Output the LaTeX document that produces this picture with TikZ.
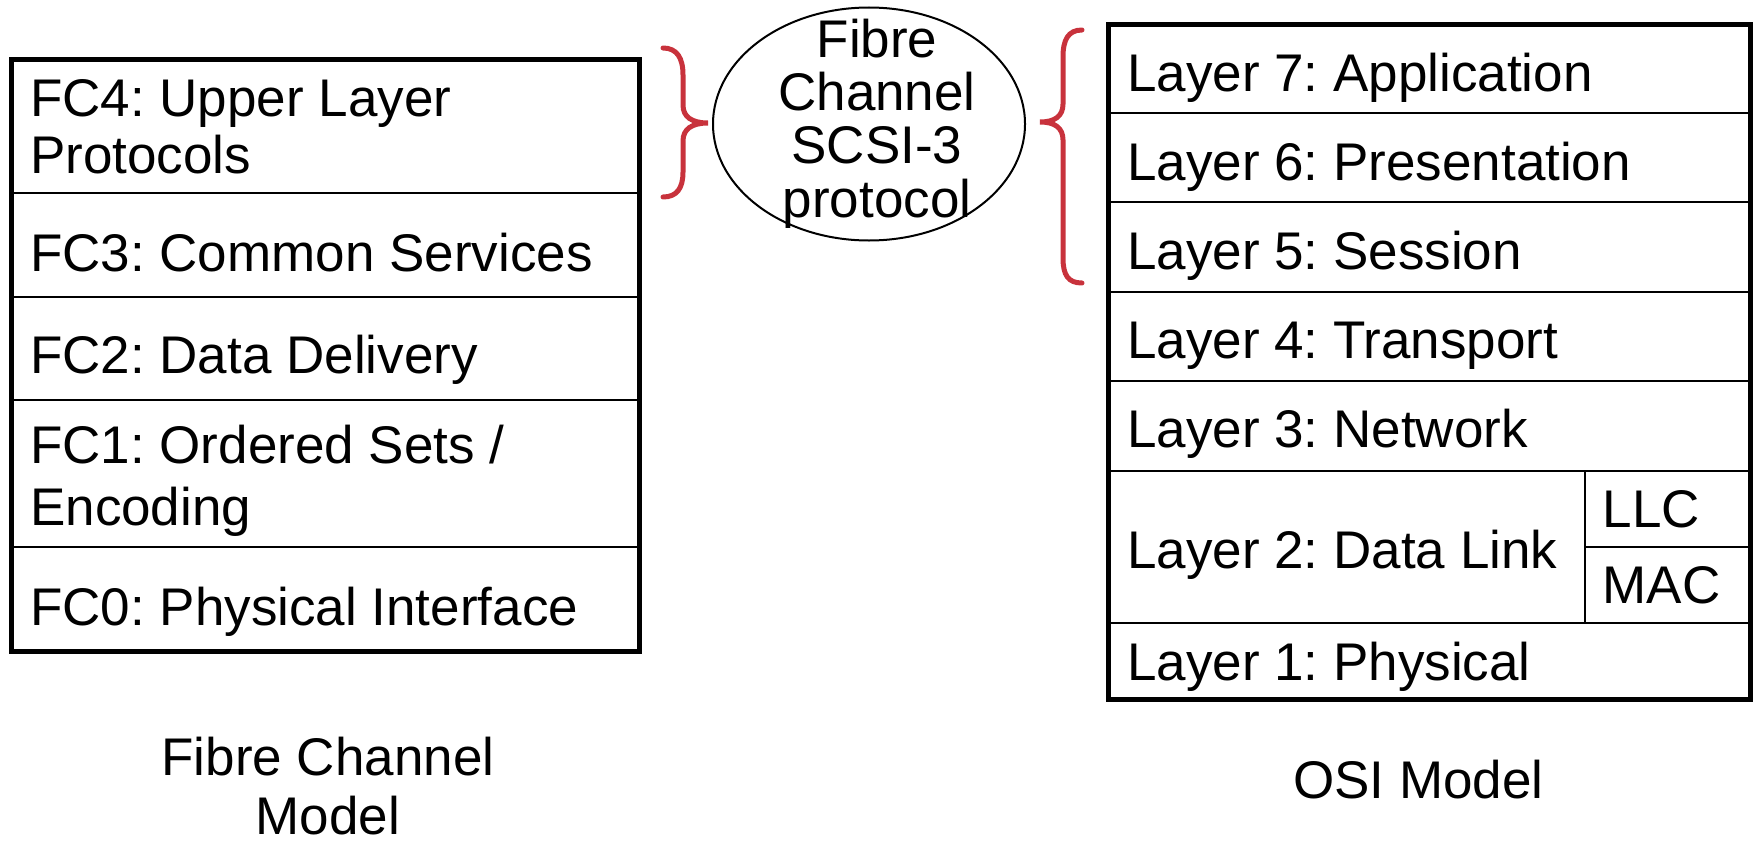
\documentclass[tikz,border=0pt]{standalone}
\usepackage{fontspec}
\setmainfont{Liberation Sans}
\usetikzlibrary{shapes.geometric}
\definecolor{bracered}{RGB}{200,50,60}
\frenchspacing
\begin{document}
\begin{tikzpicture}[x=1bp,y=-1bp,
  thickbox/.style={line width=5bp},
  thinline/.style={line width=2bp},
  lbl/.style={anchor=base west, inner sep=0pt, font=\fontsize{53bp}{57bp}\selectfont\frenchspacing},
  clbl/.style={anchor=base, inner sep=0pt, font=\fontsize{53bp}{57bp}\selectfont\frenchspacing},
  brc/.style={draw=bracered, line width=5bp, line cap=round},
  ]
\useasboundingbox (0,0) rectangle (1759,843);

% ---------- Fibre Channel model (left) ----------
\coordinate (fctl) at (11,59.5);
\coordinate (fcbr) at (639,651);
\foreach \yy in {193,297,400,547}{\draw[thinline] (11,\yy) -- (639,\yy);}
\draw[thickbox] (fctl) rectangle (fcbr);

\node[lbl] (fc4) at (30,116.5) {\begin{tabular}[t]{@{}l@{}}FC4: Upper Layer\\Protocols\end{tabular}};
\node[lbl] (fc3) at (30,271) {FC3: Common Services};
\node[lbl] (fc2) at (30,373.5) {FC2: Data Delivery};
\node[lbl] (fc1) at (30,463.5) {\begin{tabular}[t]{@{}l@{}}FC1: Ordered Sets /\\[5bp]Encoding\end{tabular}};
\node[lbl] (fc0) at (30,625) {FC0: Physical Interface};

\node[clbl] (fctitle) at (328,775) {\begin{tabular}[t]{@{}c@{}}Fibre Channel\\[2bp]Model\end{tabular}};

% ---------- OSI model (right) ----------
\coordinate (ositl) at (1108,24.5);
\coordinate (osibr) at (1750,699);
\foreach \yy in {112.5,202,292,381,471,623}{\draw[thinline] (1108,\yy) -- (1750,\yy);}
\draw[thinline] (1585,471) -- (1585,623);
\draw[thinline] (1585,547) -- (1750,547);
\draw[thickbox] (ositl) rectangle (osibr);

\node[lbl] (l7) at (1127,91) {Layer 7: Application};
\node[lbl] (l6) at (1127,180) {Layer 6: Presentation};
\node[lbl] (l5) at (1127,269) {Layer 5: Session};
\node[lbl] (l4) at (1127,358) {Layer 4: Transport};
\node[lbl] (l3) at (1127,447) {Layer 3: Network};
\node[lbl] (l2) at (1127,568.5) {Layer 2: Data Link};
\node[lbl] (llc) at (1602.5,527) {LLC};
\node[lbl] (mac) at (1602.5,603.5) {MAC};
\node[lbl] (l1) at (1127,680) {Layer 1: Physical};

\node[clbl] (osititle) at (1418.5,798) {OSI Model};

% ---------- centre ellipse ----------
\node[ellipse, draw, line width=2bp, minimum width=312bp, minimum height=233bp, inner sep=0pt] (ell) at (869,124) {};
\node[clbl, font=\fontsize{53bp}{51.7bp}\selectfont] (ellt) at (877,57)
  {\begin{tabular}[t]{@{}c@{}}Fibre\\Channel\\SCSI-3\\protocol\end{tabular}};

% ---------- braces ----------
\coordinate (lbtop) at (663,48);
\coordinate (lbbot) at (663,197);
\coordinate (lbtip) at (708,123);
\draw[brc] (lbtop) .. controls (677,48) and (683,58) .. (683,75) -- (683,105)
  .. controls (683,117) and (692,123) .. (lbtip)
  .. controls (692,123) and (683,129) .. (683,141) -- (683,172)
  .. controls (683,188) and (677,197) .. (lbbot);

\coordinate (rbtop) at (1082,30);
\coordinate (rbbot) at (1082,283);
\coordinate (rbtip) at (1040,122);
\draw[brc] (rbtop) .. controls (1068,30) and (1063,40) .. (1063,57) -- (1063,104)
  .. controls (1063,116) and (1055,122) .. (rbtip)
  .. controls (1055,122) and (1063,128) .. (1063,140) -- (1063,258)
  .. controls (1063,275) and (1068,283) .. (rbbot);
\end{tikzpicture}
\end{document}
